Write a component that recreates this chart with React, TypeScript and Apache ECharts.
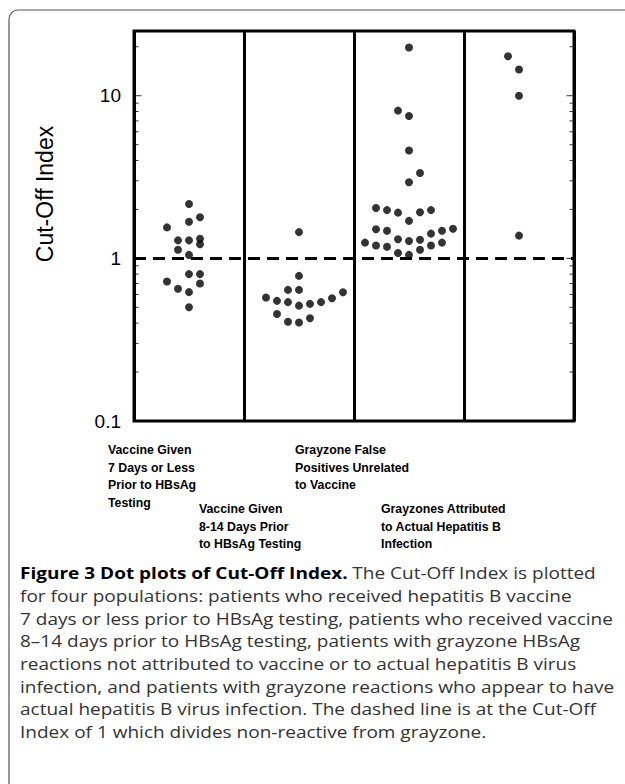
import React, { useEffect, useRef } from 'react';
import * as echarts from 'echarts';

// Each dot: [column offset within group (steps of 0.1 group width), Cut-Off Index]
const group1: [number, number][] = [
  [0, 2.16], [1, 1.79], [0, 1.68], [-2, 1.55], [-1, 1.29], [0, 1.29], [1, 1.32], [1, 1.22],
  [-1, 1.13], [0, 1.05], [0, 0.8], [1, 0.8], [-2, 0.72], [1, 0.7], [-1, 0.65], [0, 0.62], [0, 0.5],
];
const group2: [number, number][] = [
  [0, 1.45], [0, 0.78], [-1, 0.64], [0, 0.64], [-3, 0.574], [-2, 0.548], [-1, 0.538], [0, 0.512],
  [1, 0.525], [2, 0.538], [3, 0.569], [4, 0.619], [-2, 0.455], [-1, 0.408], [0, 0.403], [1, 0.428],
];
const group3: [number, number][] = [
  [0, 19.8], [-1, 8.1], [0, 7.5], [0, 4.6], [1, 3.35], [0, 2.94], [-3, 2.04], [-2, 1.98],
  [-1, 1.91], [1, 1.92], [2, 1.98], [0, 1.7], [-3, 1.51], [-2, 1.48], [4, 1.52], [3, 1.48],
  [2, 1.42], [-4, 1.25], [-3, 1.2], [-2, 1.18], [-1, 1.31], [0, 1.28], [1, 1.3], [2, 1.2],
  [3, 1.25], [1, 1.13], [-1, 1.08], [0, 1.05],
];
const group4: [number, number][] = [
  [-1, 17.5], [0, 14.5], [0, 10.0], [0, 1.38],
];
const groups = [group1, group2, group3, group4];

const groupLabels = [
  'Vaccine Given\n7 Days or Less\nPrior to HBsAg\nTesting',
  'Vaccine Given\n8-14 Days Prior\nto HBsAg Testing',
  'Grayzone False\nPositives Unrelated\nto Vaccine',
  'Grayzones Attributed\nto Actual Hepatitis B\nInfection',
];

const yTickValues = [0.1, 1, 10];
const yTickLabels = ['0.1', '1', '10'];
const minorTickValues = [0.2, 0.3, 0.4, 0.5, 0.6, 0.7, 0.8, 0.9, 2, 3, 4, 5, 6, 7, 8, 9, 20];
const cutOffValue = 1;
const yMin = 0.1;
const yMax = 25;

const yTitle = 'Cut-Off Index';
const captionBold = 'Figure 3 Dot plots of Cut-Off Index.';
const captionLines = [
  ' The Cut-Off Index is plotted',
  'for four populations: patients who received hepatitis B vaccine',
  '7 days or less prior to HBsAg testing, patients who received vaccine',
  '8–14 days prior to HBsAg testing, patients with grayzone HBsAg',
  'reactions not attributed to vaccine or to actual hepatitis B virus',
  'infection, and patients with grayzone reactions who appear to have',
  'actual hepatitis B virus infection. The dashed line is at the Cut-Off',
  'Index of 1 which divides non-reactive from grayzone.',
];

export default function App() {
  const ref = useRef<HTMLDivElement>(null);
  useEffect(() => {
    if (!ref.current) return;
    const chart = echarts.init(ref.current, null, { renderer: 'svg' });

    const labelPos = [
      [108, 441],
      [199, 500],
      [295, 441],
      [381, 500],
    ];

    const captionFont = 'Open Sans';
    const captionSize = 16.4;
    const captionStretch = 19 / 16.4;
    const captionStep = 22.65;
    const captionY0 = 573;

    const graphics: any[] = [
      {
        type: 'rect',
        shape: { x: 9, y: 10, width: 700, height: 900, r: 9 },
        style: { fill: 'none', stroke: '#555', lineWidth: 1.2 },
        z: -1,
      },
      {
        type: 'text',
        x: 45,
        y: 194,
        rotation: Math.PI / 2,
        style: {
          text: yTitle,
          fontFamily: 'Liberation Sans',
          fontSize: 23,
          fill: '#000',
          align: 'center',
          verticalAlign: 'middle',
        },
      },
      ...groupLabels.map((t, i) => ({
        type: 'text',
        x: labelPos[i][0],
        y: labelPos[i][1],
        style: {
          text: t,
          fontFamily: 'Liberation Sans',
          fontWeight: 'bold',
          fontSize: 12.3,
          lineHeight: 17.7,
          fill: '#000',
          align: 'left',
          verticalAlign: 'top',
        },
      })),
      {
        type: 'text',
        x: 20,
        y: captionY0,
        scaleX: captionStretch,
        style: {
          text: '{b|' + captionBold + '}{r|' + captionLines[0] + '}',
          verticalAlign: 'middle',
          align: 'left',
          rich: {
            b: { fontFamily: captionFont, fontWeight: 'bold', fontSize: captionSize, fill: '#000' },
            r: { fontFamily: captionFont, fontSize: captionSize, fill: '#333' },
          },
        },
      },
      ...captionLines.slice(1).map((t, i) => ({
        type: 'text',
        x: 20,
        y: captionY0 + captionStep * (i + 1),
        scaleX: captionStretch,
        style: {
          text: t,
          fontFamily: captionFont,
          fontSize: captionSize,
          fill: '#333',
          align: 'left',
          verticalAlign: 'middle',
        },
      })),
    ];

    const scatterSeries: any[] = groups.map((g, gi) => ({
      type: 'scatter',
      name: 'group' + (gi + 1),
      symbol: 'circle',
      symbolSize: 8,
      itemStyle: { color: '#000' },
      data: g.map(([c, v]) => [gi + 0.5 + c * 0.1, v]),
      z: 3,
      ...(gi === 0
        ? {
            markLine: {
              silent: true,
              symbol: 'none',
              z: 6,
              label: { show: false },
              lineStyle: { type: [12, 7], width: 3, color: '#000' },
              data: [{ yAxis: cutOffValue }],
            },
          }
        : {}),
    }));

    // tick marks on both inner sides of the frame, drawn as thin rect symbols
    const tickSeries = (values: number[], len: number, side: 'left' | 'right') => ({
      type: 'scatter',
      name: 'ticks-' + side + '-' + len,
      silent: true,
      clip: false,
      symbol: 'rect',
      symbolSize: [len, 1],
      symbolOffset: [side === 'left' ? len / 2 + 1.5 : -len / 2 - 1.5, 0],
      itemStyle: { color: '#000' },
      z: 4,
      data: values.map((v) => [side === 'left' ? 0 : 4, v]),
    });

    chart.setOption({
      animation: false,
      grid: {
        left: 134,
        top: 31,
        width: 440,
        height: 390,
        show: true,
        borderColor: '#000',
        borderWidth: 3,
        backgroundColor: 'transparent',
      },
      xAxis: {
        type: 'value',
        min: 0,
        max: 4,
        interval: 1,
        axisLine: { show: false },
        axisTick: { show: false },
        axisLabel: { show: false },
        splitLine: { show: true, lineStyle: { color: '#000', width: 3 } },
      },
      yAxis: {
        type: 'log',
        logBase: 10,
        min: yMin,
        max: yMax,
        axisLine: { show: false },
        axisTick: { show: false },
        splitLine: { show: false },
        axisLabel: {
          margin: 13,
          fontFamily: 'Liberation Sans',
          fontSize: 19,
          color: '#000',
          formatter: (v: number) => {
            const i = yTickValues.findIndex((t) => Math.abs(t - v) / t < 1e-6);
            return i >= 0 ? yTickLabels[i] : '';
          },
        },
      },
      graphic: graphics,
      series: [
        ...scatterSeries,
        tickSeries(yTickValues, 6, 'left'),
        tickSeries(yTickValues, 6, 'right'),
        tickSeries(minorTickValues, 3, 'left'),
        tickSeries(minorTickValues, 3, 'right'),
      ],
    });

    return () => chart.dispose();
  }, []);

  return (
    <div
      ref={ref}
      style={{ position: 'absolute', left: 0, top: 0, width: 625, height: 784 }}
    />
  );
}
